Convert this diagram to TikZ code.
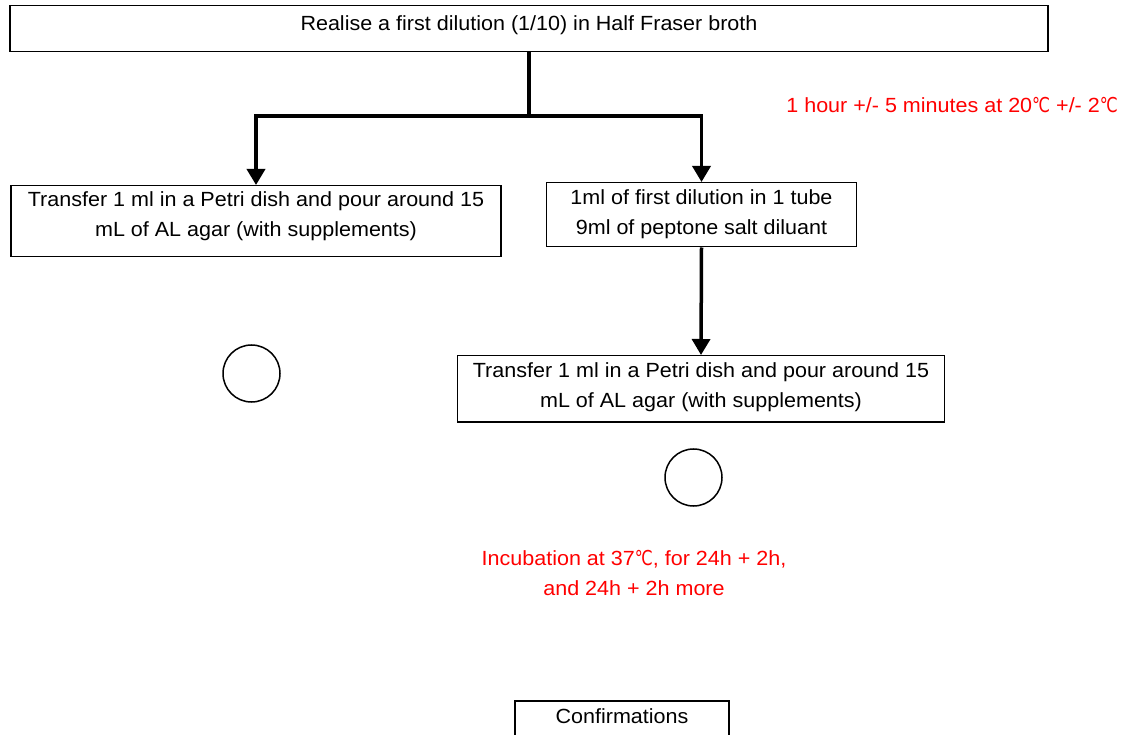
\documentclass[tikz,border=0pt]{standalone}
\usepackage{fontspec}
\usepackage{graphicx}
\setmainfont{Liberation Sans}[FakeStretch=1.05]
\newfontfamily\symfont{DejaVu Sans}
\newcommand\degC{\scalebox{0.78}[1]{\symfont ℃}}
\usetikzlibrary{arrows.meta}
\tikzset{
  txt/.style={font=\fontsize{20.5pt}{30pt}\selectfont, text=black},
  stepbox/.style={txt, draw, line width=1.5pt, inner xsep=0pt, inner ysep=0pt, align=center},
  note/.style={font=\fontsize{20.5pt}{30pt}\selectfont, text=red, inner sep=0pt, align=center},
  flow/.style={line width=3.5pt, -{Triangle[width=18pt,length=16pt]}},
  trunk/.style={line width=3.5pt},
  dish/.style={draw, circle, line width=1.5pt, minimum size=57pt, inner sep=0pt},
}
\begin{document}
\begin{tikzpicture}[x=1pt, y=-1pt]
\useasboundingbox (0,0) rectangle (1125,735);
\clip (0,0) rectangle (1125,735);

% first dilution
\node[stepbox, minimum width=1038pt, text height=25pt, text depth=21pt, anchor=north] (first) at (529,5)
  {Realise a first dilution (1/10) in Half Fraser broth};

% direct plating branch (text height runs to the last baseline)
\node[stepbox, minimum width=490pt, text height=51pt, text depth=20pt, anchor=north] (plateA) at (256,185)
  {Transfer 1 ml in a Petri dish and pour around 15\\mL of AL agar (with supplements)};

% second dilution branch
\node[stepbox, minimum width=310pt, text height=52pt, text depth=12pt, anchor=north] (tube) at (701.5,182)
  {1ml of first dilution in 1 tube\\9ml of peptone salt diluant};
\node[stepbox, minimum width=487pt, text height=52pt, text depth=14pt, anchor=north] (plateB) at (701,355)
  {Transfer 1 ml in a Petri dish and pour around 15\\mL of AL agar (with supplements)};

% Petri dishes
\node[dish] (dishA) at (251.5,373.5) {};
\node[dish] (dishB) at (693.5,477.5) {};

% notes
\node[note, anchor=base east] (rest) at (1118,113)
  {1 hour +/- 5 minutes at 20\degC\ +/- 2\degC};
\node[note, anchor=base] (incub) at (634,595)
  {Incubation at 37\degC, for 24h + 2h,\\and 24h + 2h more};

% confirmations
\node[stepbox, minimum width=214pt, text height=23pt, text depth=27pt, anchor=north] (confirm) at (622,700)
  {Confirmations};

% connectors
\coordinate (split) at (first.south |- 0,116);
\draw[trunk] (first.south) -- (split);
\draw[flow] (split) -| (plateA.north);
\draw[flow] (split) -| (tube.north);
\draw[flow] (tube.south) -- (plateB.north);
\end{tikzpicture}
\end{document}
